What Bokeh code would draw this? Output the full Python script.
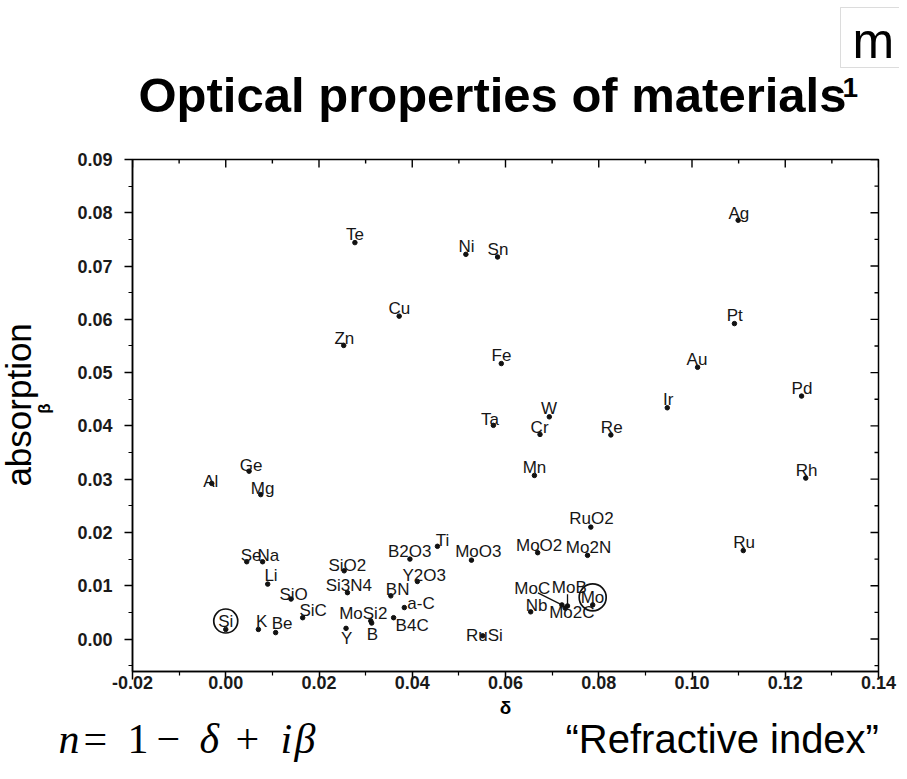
import numpy as np
from bokeh.plotting import figure
from bokeh.models import ColumnDataSource, Range1d, FixedTicker, Label, BoxAnnotation
from bokeh.layouts import column, row
from bokeh.core.properties import value
from bokeh.embed import file_html
from bokeh.resources import INLINE

# ---------------- data ----------------
materials = ["Te", "Ni", "Sn", "Cu", "Zn", "Fe", "Ag", "Pt", "Au", "Pd", "Ir", "Ta", "W", "Cr",
             "Re", "Al", "Ge", "Mg", "Mn", "Rh", "RuO2", "Se", "Na", "Li", "SiO", "SiC", "Si",
             "K", "Be", "SiO2", "Si3N4", "MoSi2", "B", "Y", "B2O3", "Ti", "MoO3", "Y2O3", "BN",
             "a-C", "B4C", "RuSi", "MoO2", "Mo2N", "Ru", "MoC", "MoB", "Mo", "Nb", "Mo2C"]
delta = [0.0277, 0.0515, 0.0583, 0.0372, 0.0253, 0.0591, 0.1099, 0.1091, 0.1012, 0.1235, 0.0947,
         0.0574, 0.0694, 0.0674, 0.0826, -0.0030, 0.0050, 0.0075, 0.0662, 0.1244, 0.0783,
         0.0045, 0.0079, 0.0090, 0.0140, 0.0165, 0.0000, 0.0070, 0.0107, 0.0254, 0.0261,
         0.0311, 0.0313, 0.0258, 0.0395, 0.0454, 0.0527, 0.0411, 0.0354, 0.0383, 0.0360,
         0.0551, 0.0669, 0.0776, 0.1110, 0.0721, 0.0733, 0.0787, 0.0654, 0.0728]
beta = [0.0744, 0.0722, 0.0717, 0.0606, 0.0551, 0.0517, 0.0786, 0.0592, 0.0510, 0.0456, 0.0434,
        0.0401, 0.0417, 0.0384, 0.0383, 0.0292, 0.0315, 0.0271, 0.0307, 0.0302, 0.0210,
        0.0145, 0.0145, 0.0103, 0.0075, 0.0040, 0.0018, 0.0018, 0.0012, 0.0128, 0.0087,
        0.0034, 0.0030, 0.0020, 0.0150, 0.0174, 0.0148, 0.0108, 0.0081, 0.0059, 0.0040,
        0.0006, 0.0162, 0.0157, 0.0166, 0.0064, 0.0062, 0.0064, 0.0051, 0.0058]

x_ticks = [-0.02, 0.0, 0.02, 0.04, 0.06, 0.08, 0.10, 0.12, 0.14]
x_tick_labels = ["-0.02", "0.00", "0.02", "0.04", "0.06", "0.08", "0.10", "0.12", "0.14"]
x_minor = [-0.01, 0.01, 0.03, 0.05, 0.07, 0.09, 0.11, 0.13]
y_ticks = [0.0, 0.01, 0.02, 0.03, 0.04, 0.05, 0.06, 0.07, 0.08, 0.09]
y_tick_labels = ["0.00", "0.01", "0.02", "0.03", "0.04", "0.05", "0.06", "0.07", "0.08", "0.09"]
y_minor = [-0.005, 0.005, 0.015, 0.025, 0.035, 0.045, 0.055, 0.065, 0.075, 0.085]

circled = ["Si", "Mo"]
leader = ["MoC", "MoB"]

# ---------------- label placement (screen px, relative to each point) ----------------
label_dx = [-9, -7.3, -10, -10.7, -9.3, -9.7, -9.7, -7.7, -11, -10, -4.3, -12.4, -8.4, -9.4,
            -10, -8.6, -9.4, -10, -11.7, -10, -21.6, -6, -5, -3.3, -11.6, -3.3, -7.5,
            -2.4, -4, -15.7, -21.7, -31.6, -5, -5, -22, -1.7, -16.3, -15, -5,
            3, 2, -16.7, -21.7, -21.7, -10, -47.6, -15.7, -12, -5, -16]
label_dy = [-8, -7.7, -7.3, -7.7, -7, -7.7, -7, -8, -7.7, -8, -8.3, -6, -8.2, -7.4,
            -7.3, -1.5, -6, -5.7, -7.7, -8, -8.3, -6.5, -6.5, -8.4, -5, -6.7, -8.4,
            -7.7, -9.2, -5.8, -7.5, -7.5, 11, 10, -7.7, -6, -8.2, -5.7, -6.7,
            -4.3, 8.3, 0, -6.7, -8.3, -8.3, -16.5, -18.3, -7.5, -6.8, 4.5]
circle_dy = {"Si": -8.4, "Mo": -7.5}
circle_size = {"Si": 24, "Mo": 27}
leader_from = {"MoC": (-24, -12), "MoB": (0, -11.6)}

# ---------------- geometry ----------------
PAGE_W = 899
TOP_H, MID_H, BOT_H = 140, 555, 76
LEFT_W = 60
MAIN_W = PAGE_W - LEFT_W
ML, MR, MT, MB = 72, 21, 19, 24
XR = (-0.02, 0.14)
YR = (-0.0061, 0.09)
FW, FH = MAIN_W - ML - MR, MID_H - MT - MB
xs = FW / (XR[1] - XR[0])
ys = FH / (YR[1] - YR[0])

FONT = "Liberation Sans"
SERIF = "Liberation Serif"

# ---------------- main chart ----------------
p = figure(width=MAIN_W, height=MID_H, output_backend="svg", toolbar_location=None,
           x_range=Range1d(*XR), y_range=Range1d(*YR),
           min_border_left=ML, min_border_right=MR, min_border_top=MT, min_border_bottom=MB)
p.grid.visible = False
p.outline_line_color = "black"
p.outline_line_width = 1.5
p.background_fill_color = "white"
p.border_fill_color = "white"

def style_axis(ax, labels):
    ax.axis_line_color = "black"
    ax.axis_line_width = 1.5
    ax.major_tick_line_width = 1.5
    ax.minor_tick_line_width = 1.2
    ax.major_tick_in, ax.major_tick_out = 0, 8
    ax.minor_tick_in, ax.minor_tick_out = 0, 4
    ax.major_label_text_font = FONT
    ax.major_label_text_font_size = "18px"
    ax.major_label_text_font_style = "bold"
    ax.major_label_text_color = "#1a1a1a"
    ax.major_label_overrides = labels

xax = p.xaxis[0]
xax.ticker = FixedTicker(ticks=x_ticks, minor_ticks=x_minor)
style_axis(xax, {t: l for t, l in zip(x_ticks, x_tick_labels)})
xax.major_label_standoff = -4

yax = p.yaxis[0]
yax.ticker = FixedTicker(ticks=y_ticks, minor_ticks=y_minor)
style_axis(yax, {t: l for t, l in zip(y_ticks, y_tick_labels)})
yax.major_label_standoff = 12

# inward ticks on the top and right edges, from the tick lists
tx = x_ticks + x_minor
tlen_x = [8] * len(x_ticks) + [4] * len(x_minor)
p.segment(tx, [YR[1]] * len(tx), tx, [YR[1] - L / ys for L in tlen_x],
          line_color="black", line_width=1.4)
ty = y_ticks + y_minor
tlen_y = [8] * len(y_ticks) + [4] * len(y_minor)
p.segment([XR[1]] * len(ty), ty, [XR[1] - L / xs for L in tlen_y], ty,
          line_color="black", line_width=1.4)

src = ColumnDataSource(dict(x=delta, y=beta, name=materials, dx=label_dx, dy=label_dy))
p.scatter("x", "y", source=src, size=4.5, color="#111111")
p.text("x", "y", text="name", source=src, x_offset="dx", y_offset="dy",
       text_font=value(FONT), text_font_size="17px", text_color="#161616",
       text_align="left", text_baseline="middle")

cx, cy, cs = [], [], []
for m in circled:
    i = materials.index(m)
    cx.append(delta[i])
    cy.append(beta[i] - circle_dy[m] / ys)
    cs.append(circle_size[m])
p.scatter(cx, cy, size=cs, fill_color=None, line_color="#111111", line_width=1.7)

x0, y0, x1, y1 = [], [], [], []
for m in leader:
    i = materials.index(m)
    ox, oy = leader_from[m]
    x0.append(delta[i] + ox / xs)
    y0.append(beta[i] - oy / ys)
    x1.append(delta[i])
    y1.append(beta[i])
p.segment(x0, y0, x1, y1, line_color="#111111", line_width=1.3)

# ---------------- surrounding text panels ----------------
def blank(w, h):
    f = figure(width=w, height=h, output_backend="svg", toolbar_location=None,
               x_range=Range1d(0, w), y_range=Range1d(0, h),
               x_axis_type=None, y_axis_type=None, min_border=0)
    f.grid.visible = False
    f.outline_line_color = None
    f.background_fill_color = "white"
    f.border_fill_color = "white"
    return f

def lab(f, text, x, y, size, font=FONT, style="normal", align="left",
        baseline="alphabetic", angle=0.0, **kw):
    f.add_layout(Label(x=x, y=y, text=text, text_font=font, text_font_size=f"{size}px",
                       text_font_style=style, text_align=align, text_baseline=baseline,
                       angle=angle, text_color="black", **kw))

SHIFT = 0.33  # baseline correction (fraction of font size)

# top panel: page coords (rx, ry) -> (rx - 8, 148 - ry)
top = blank(PAGE_W, TOP_H)
top.add_layout(BoxAnnotation(left=848 - 8, right=915 - 8, top=148 - 15, bottom=148 - 75,
                             fill_color="white", fill_alpha=1.0,
                             line_color="#8c8c8c", line_width=1))
lab(top, "Optical properties of materials", 146 - 8, 148 - 119 + SHIFT * 49, 49, style="bold")
lab(top, "1", 850 - 8, 148 - 104 + SHIFT * 28, 28, style="bold")
lab(top, "m", 860 - 8, 148 - 65 + SHIFT * 50, 50)

# left panel: page coords -> (rx - 8, 703 - ry)
left = blank(LEFT_W, MID_H)
lab(left, "absorption", 26 - 8, 703 - 414, 35, align="center", baseline="middle",
    angle=np.pi / 2)
lab(left, "β", 52 - 8, 703 - 418, 17, style="bold", align="center", baseline="middle",
    angle=np.pi / 2)

# bottom panel: page coords -> (rx - 8, 779 - ry)
bot = blank(PAGE_W, BOT_H)
lab(bot, "δ", 513 - 8, 779 - 721 + SHIFT * 19, 19, style="bold", align="center")
formula = [("n", 66, "italic"), ("=", 91, "normal"), ("1", 135, "normal"), ("−", 164, "normal"),
           ("δ", 207, "italic"), ("+", 243, "normal"), ("i", 288, "italic"), ("β", 302, "italic")]
for t, rx, st in formula:
    lab(bot, t, rx - 8, 779 - 760 + SHIFT * 42, 42, font=SERIF, style=st)
lab(bot, "“Refractive index”", 573 - 8, 779 - 760 + SHIFT * 40, 40)

page = column(top, row(left, p), bot)
open("out.html", "w").write(file_html(page, INLINE))
